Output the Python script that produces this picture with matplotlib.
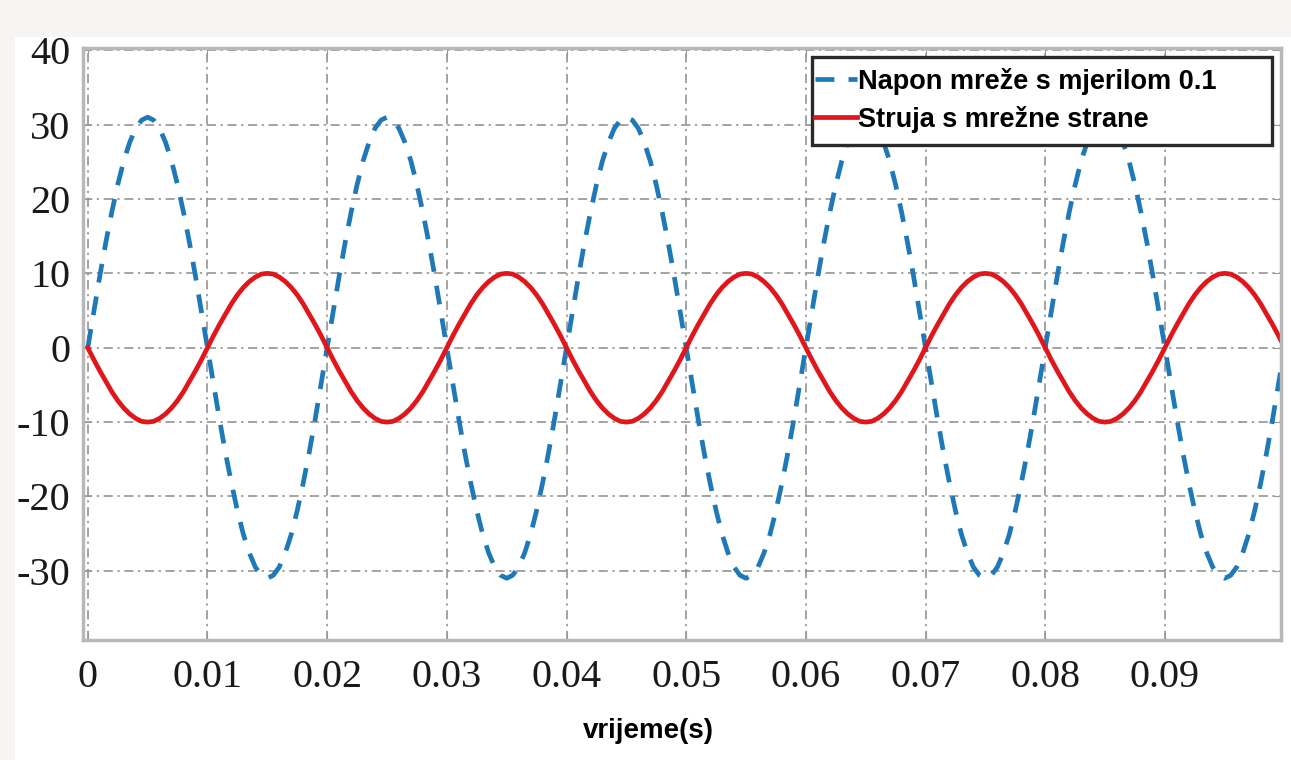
import numpy as np
import matplotlib.pyplot as plt
from matplotlib.patches import Rectangle

plt.rcParams["axes.unicode_minus"] = False

# sample times (s), 0.5 ms step
vrijeme = np.linspace(0, 0.1, 201)

# grid voltage scaled by 0.1 (one row per period)
napon = [
    0, 4.8, 9.6, 14.1, 18.2, 21.9, 25.1, 27.6, 29.5, 30.6, 31.0, 30.6, 29.5, 27.6, 25.1, 21.9, 18.2, 14.1, 9.6, 4.8,
    0, -4.8, -9.6, -14.1, -18.2, -21.9, -25.1, -27.6, -29.5, -30.6, -31.0, -30.6, -29.5, -27.6, -25.1, -21.9, -18.2, -14.1, -9.6, -4.8,
    0, 4.8, 9.6, 14.1, 18.2, 21.9, 25.1, 27.6, 29.5, 30.6, 31.0, 30.6, 29.5, 27.6, 25.1, 21.9, 18.2, 14.1, 9.6, 4.8,
    0, -4.8, -9.6, -14.1, -18.2, -21.9, -25.1, -27.6, -29.5, -30.6, -31.0, -30.6, -29.5, -27.6, -25.1, -21.9, -18.2, -14.1, -9.6, -4.8,
    0, 4.8, 9.6, 14.1, 18.2, 21.9, 25.1, 27.6, 29.5, 30.6, 31.0, 30.6, 29.5, 27.6, 25.1, 21.9, 18.2, 14.1, 9.6, 4.8,
    0, -4.8, -9.6, -14.1, -18.2, -21.9, -25.1, -27.6, -29.5, -30.6, -31.0, -30.6, -29.5, -27.6, -25.1, -21.9, -18.2, -14.1, -9.6, -4.8,
    0, 4.8, 9.6, 14.1, 18.2, 21.9, 25.1, 27.6, 29.5, 30.6, 31.0, 30.6, 29.5, 27.6, 25.1, 21.9, 18.2, 14.1, 9.6, 4.8,
    0, -4.8, -9.6, -14.1, -18.2, -21.9, -25.1, -27.6, -29.5, -30.6, -31.0, -30.6, -29.5, -27.6, -25.1, -21.9, -18.2, -14.1, -9.6, -4.8,
    0, 4.8, 9.6, 14.1, 18.2, 21.9, 25.1, 27.6, 29.5, 30.6, 31.0, 30.6, 29.5, 27.6, 25.1, 21.9, 18.2, 14.1, 9.6, 4.8,
    0, -4.8, -9.6, -14.1, -18.2, -21.9, -25.1, -27.6, -29.5, -30.6, -31.0, -30.6, -29.5, -27.6, -25.1, -21.9, -18.2, -14.1, -9.6, -4.8,
    0,
]

# grid-side current
struja = [
    0, -1.6, -3.1, -4.5, -5.9, -7.1, -8.1, -8.9, -9.5, -9.9, -10.0, -9.9, -9.5, -8.9, -8.1, -7.1, -5.9, -4.5, -3.1, -1.6,
    0, 1.6, 3.1, 4.5, 5.9, 7.1, 8.1, 8.9, 9.5, 9.9, 10.0, 9.9, 9.5, 8.9, 8.1, 7.1, 5.9, 4.5, 3.1, 1.6,
    0, -1.6, -3.1, -4.5, -5.9, -7.1, -8.1, -8.9, -9.5, -9.9, -10.0, -9.9, -9.5, -8.9, -8.1, -7.1, -5.9, -4.5, -3.1, -1.6,
    0, 1.6, 3.1, 4.5, 5.9, 7.1, 8.1, 8.9, 9.5, 9.9, 10.0, 9.9, 9.5, 8.9, 8.1, 7.1, 5.9, 4.5, 3.1, 1.6,
    0, -1.6, -3.1, -4.5, -5.9, -7.1, -8.1, -8.9, -9.5, -9.9, -10.0, -9.9, -9.5, -8.9, -8.1, -7.1, -5.9, -4.5, -3.1, -1.6,
    0, 1.6, 3.1, 4.5, 5.9, 7.1, 8.1, 8.9, 9.5, 9.9, 10.0, 9.9, 9.5, 8.9, 8.1, 7.1, 5.9, 4.5, 3.1, 1.6,
    0, -1.6, -3.1, -4.5, -5.9, -7.1, -8.1, -8.9, -9.5, -9.9, -10.0, -9.9, -9.5, -8.9, -8.1, -7.1, -5.9, -4.5, -3.1, -1.6,
    0, 1.6, 3.1, 4.5, 5.9, 7.1, 8.1, 8.9, 9.5, 9.9, 10.0, 9.9, 9.5, 8.9, 8.1, 7.1, 5.9, 4.5, 3.1, 1.6,
    0, -1.6, -3.1, -4.5, -5.9, -7.1, -8.1, -8.9, -9.5, -9.9, -10.0, -9.9, -9.5, -8.9, -8.1, -7.1, -5.9, -4.5, -3.1, -1.6,
    0, 1.6, 3.1, 4.5, 5.9, 7.1, 8.1, 8.9, 9.5, 9.9, 10.0, 9.9, 9.5, 8.9, 8.1, 7.1, 5.9, 4.5, 3.1, 1.6,
    0,
]

x_ticks = [0, 0.01, 0.02, 0.03, 0.04, 0.05, 0.06, 0.07, 0.08, 0.09]
x_labels = ["0", "0.01", "0.02", "0.03", "0.04", "0.05", "0.06", "0.07", "0.08", "0.09"]
y_ticks = [-30, -20, -10, 0, 10, 20, 30, 40]

W, H = 1291, 760
fig = plt.figure(figsize=(W / 100, H / 100), dpi=100)
fig.patch.set_facecolor("white")

# light grey strips along the top and left edge of the screenshot
fig.patches.append(Rectangle((0, 1 - 37 / H), 1, 37 / H, transform=fig.transFigure,
                             facecolor="#f6f5f3", edgecolor="none", zorder=0))
fig.patches.append(Rectangle((0, 0), 15 / W, 1, transform=fig.transFigure,
                             facecolor="#f6f5f3", edgecolor="none", zorder=0))

ax = fig.add_axes([83 / W, 120 / H, 1198 / W, 592 / H])

ax.plot(vrijeme, napon, color="#1f78b8", lw=3.4, linestyle=(0, (4.0, 3.0)),
        label="Napon mreže s mjerilom 0.1")
ax.plot(vrijeme, struja, color="#e0161b", lw=3.4, label="Struja s mrežne strane")

ax.set_xlim(-0.0004, 0.0997)
ax.set_ylim(-39.3, 40.3)
ax.set_xticks(x_ticks)
ax.set_xticklabels(x_labels)
ax.set_yticks(y_ticks)

ax.grid(True, color="#8a8a8a", linestyle=(0, (6, 3, 1.5, 3)), lw=1.1)
ax.tick_params(direction="in", length=6, color="#999999", top=True, right=True,
               labelsize=29, labelfontfamily="Liberation Serif", labelcolor="#1a1a1a")
ax.tick_params(axis="x", pad=14)
ax.tick_params(axis="y", pad=9)
for s in ax.spines.values():
    s.set_color("#b8b8b8")
    s.set_linewidth(2.5)

fig.text(648 / W, 1 - 731 / H, "vrijeme(s)", ha="center", va="center",
         fontsize=20, fontweight="bold", family="Liberation Sans")

# legend box is wider than its text in the original, so draw the frame separately
box = Rectangle((812 / W, 1 - 145 / H), 460 / W, 88 / H, transform=fig.transFigure,
                facecolor="white", edgecolor="#2a2a2a", lw=2.4, zorder=4)
ax.add_patch(box)
leg = ax.legend(loc="upper left", bbox_to_anchor=(812 / W, 1 - 65 / H),
                bbox_transform=fig.transFigure, prop={"family": "Liberation Sans", "weight": "bold", "size": 19.5},
                handlelength=1.55, handletextpad=0.05, borderpad=0.1, labelspacing=0.4,
                borderaxespad=0, frameon=False)
leg.set_zorder(5)

fig.savefig("out.png", dpi=100)
